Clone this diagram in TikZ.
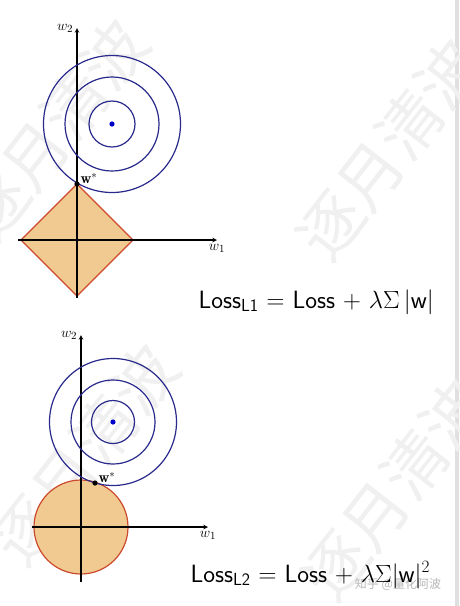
\documentclass[tikz,border=0pt]{standalone}
\usepackage{amsmath}
\usepackage{fontspec}
\newfontfamily\cjk{Noto Sans CJK SC}
\usetikzlibrary{positioning}
\tikzset{>=stealth}
\definecolor{contour}{RGB}{42,42,140}
\definecolor{region}{RGB}{240,202,145}
\definecolor{rim}{RGB}{205,75,45}
\tikzset{
  axis/.style={line width=1.1pt,black,-stealth},
  level/.style={line width=1.2pt,contour},
  lab/.style={font=\fontsize{15}{15}\selectfont},
  wmark/.style={black!6,font=\cjk\fontsize{64}{64}\selectfont,rotate=52},
  formula/.style={anchor=base west,font=\sffamily\fontsize{25}{25}\selectfont}
}

\begin{document}
\begin{tikzpicture}[x=1pt,y=-1pt]
    \useasboundingbox (0,0) rectangle (459,606);
    \fill[white](0,0) rectangle (459,606);
    \fill[black!12](455,0) rectangle (459,606);

    % watermark
    \foreach \px/\py in {55/130, 390/150, 85/455, 395/490}
      \node[wmark] at (\px,\py) {逐月清波};
    \node[black!28,font=\cjk\fontsize{12}{12}\selectfont] (zh) at (398,584) {知乎 @量化阿波};

    % L1
    \coordinate (o1) at (77,240);
    \coordinate (c1) at (112,124);
    \filldraw[fill=region,draw=rim,line width=1.2pt](77,184)--(133,240)--(77,296)--(21,240)--cycle;
    \draw[axis](18,240)--(217,240) node[below=0pt,lab] (w11){$w_1$};
    \draw[axis](77,298)--(77,28) node[left=0pt,lab] (w12){$w_2$};
    \foreach \r in {23,47,68.5}
      \draw[level] (c1) circle (\r);
    \fill[blue!80!black] (c1) circle (2.6);
    \fill (77,184) circle (2.6) node[above right=-3pt and 0pt,lab] (s1){$\mathbf{w}^*$};
    \node[formula] (f1) at (195,308) {Loss$_{\text{L1}}$ = Loss + $\lambda\Sigma\,|$w$|$};

    % L2
    \coordinate (o2) at (81,527);
    \coordinate (c2) at (113,422);
    \filldraw[fill=region,draw=rim,line width=1.2pt](o2) circle (47);
    \draw[axis](32,527)--(208,527) node[below=0pt,lab] (w21){$w_1$};
    \draw[axis](81,582)--(81,335) node[left=0pt,lab] (w22){$w_2$};
    \foreach \r in {21.5,42,63.5}
      \draw[level] (c2) circle (\r);
    \fill[blue!80!black] (c2) circle (2.6);
    \fill (95,483) circle (2.6) node[above right=-3pt and 0pt,lab] (s2){$\mathbf{w}^*$};
    \node[formula] (f2) at (187,582) {Loss$_{\text{L2}}$ = Loss + $\lambda\Sigma|$w$|^2$};
\end{tikzpicture}
\end{document}
